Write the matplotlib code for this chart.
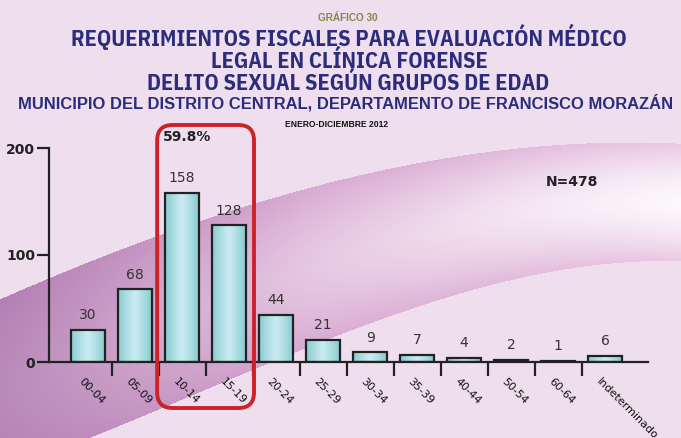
import numpy as np
import matplotlib
matplotlib.use("Agg")
import matplotlib.pyplot as plt
from matplotlib import font_manager
from matplotlib.font_manager import FontProperties
from matplotlib.textpath import TextPath
from matplotlib.patches import FancyBboxPatch

# datos del gráfico
grupos = ['00-04', '05-09', '10-14', '15-19', '20-24', '25-29', '30-34',
          '35-39', '40-44', '50-54', '60-64', 'Indeterminado']
casos = [30, 68, 158, 128, 44, 21, 9, 7, 4, 2, 1, 6]
total = 478
porcentaje = '59.8%'

W, H = 681, 438
fig = plt.figure(figsize=(W / 100, H / 100), dpi=100)
fondo = np.array([238, 222, 238]) / 255
fig.patch.set_facecolor(fondo)
renderer = fig.canvas.get_renderer()

# fuente de títulos: preferir una angosta (Arial Narrow en el original)
linea1 = 'REQUERIMIENTOS FISCALES PARA EVALUACIÓN MÉDICO'
con_negrita = {f.name for f in font_manager.fontManager.ttflist
               if (isinstance(f.weight, int) and f.weight >= 600)
               or f.weight == 'bold'}
con_negrita = {n for n in con_negrita if 'cjk' not in n.lower()}
angostas = {n for n in con_negrita
            if 'condensed' in n.lower() or 'narrow' in n.lower()}
candidatas = sorted(angostas) if angostas else sorted(con_negrita)
mejor, err_min, tam_titulo = 'Liberation Sans', 1e9, 14
for n in candidatas:
    try:
        tt = fig.text(0, 0, linea1, fontsize=17, fontweight='bold', family=n)
        w = tt.get_window_extent(renderer).width
        tt.remove()
        s = 17 * 618 / w
        fp = FontProperties(family=n, weight='bold', size=s)
        cap = TextPath((0, 0), 'H', prop=fp).get_extents().height * 100 / 72
    except Exception:
        continue
    err = abs(cap - 16.5)
    if err < err_min:
        mejor, err_min, tam_titulo = n, err, s
fam = [mejor, 'Liberation Sans']
tam_titulo *= 0.9

# fondo decorativo (franja curva)
bg = fig.add_axes([0, 0, 1, 1], zorder=0)
bg.set_axis_off()
xs = np.arange(W)
ys = np.arange(H)[:, None]
p_up = np.polyfit([0, 150, 300, 380, 480, 580, 681],
                  [298, 240, 190, 167, 153, 146, 142], 3)
p_lo = np.polyfit([0, 90, 200, 300, 380, 480, 580, 681],
                  [470, 438, 393, 348, 318, 288, 268, 260], 3)
y_up = np.polyval(p_up, xs)
y_lo = np.polyval(p_lo, xs)
t = (ys - y_up) / (y_lo - y_up)
dentro = (t >= 0) & (t <= 1)
fx = xs / (W - 1)
c_izq = np.array([180, 128, 180]) / 255
c_med = np.array([216, 170, 210]) / 255
c_der = np.array([234, 200, 228]) / 255
base = np.where(fx[:, None] < 0.45,
                c_izq + (c_med - c_izq) * (fx[:, None] / 0.45),
                c_med + (c_der - c_med) * ((fx[:, None] - 0.45) / 0.55))
brillo = np.clip(1 - np.abs(2 * t - 1) ** 1.6, 0, 1) * (0.08 + 0.8 * fx ** 1.4)
img = np.ones((H, W, 3)) * fondo
col = base[None, :, :] * (1 - brillo[..., None]) + brillo[..., None]
img = np.where(dentro[..., None], col, img)
bg.imshow(img, extent=[0, 1, 0, 1], aspect='auto', interpolation='bilinear')
bg.set_xlim(0, 1)
bg.set_ylim(0, 1)

# ejes principales
ax = fig.add_axes([49 / W, (H - 362) / H, (648 - 49) / W, (362 - 148) / H], zorder=2)
ax.patch.set_alpha(0)
x = np.arange(len(grupos))

barras = ax.bar(x, casos, width=0.72, color='none', edgecolor='#222222',
                linewidth=1.6, zorder=3)
grad = np.linspace(0, 1, 64)
perfil = 1 - np.abs(2 * grad - 1) ** 1.2
c1 = np.array([136, 202, 208]) / 255
c2 = np.array([200, 235, 240]) / 255
gimg = (c1[None, :] + (c2 - c1)[None, :] * perfil[:, None])[None, :, :]
for b in barras:
    bx, by = b.get_x(), b.get_y()
    bw, bh = b.get_width(), b.get_height()
    im = ax.imshow(gimg, extent=[bx, bx + bw, by, by + bh], aspect='auto',
                   zorder=2, interpolation='bilinear')
    im.set_clip_path(b)
ax.set_xlim(-0.83, 11.91)
ax.set_ylim(0, 200)

for xi, v in zip(x, casos):
    ax.text(xi, v + 7, str(v), ha='center', va='bottom', fontsize=10,
            color='#333333', family='DejaVu Sans', zorder=4)

for xi, g in zip(x, grupos):
    ax.text(xi - 0.16, -17, g, rotation=-45, rotation_mode='anchor',
            ha='left', va='center', fontsize=8, color='#111111',
            family='DejaVu Sans', clip_on=False, zorder=4)

for s in ['top', 'right']:
    ax.spines[s].set_visible(False)
for s in ['left', 'bottom']:
    ax.spines[s].set_linewidth(1.6)
    ax.spines[s].set_color('#222222')
ax.set_yticks([0, 100, 200])
ax.set_yticklabels(['0', '100', '200'], fontsize=10, fontweight='bold',
                   color='#222222')
ax.tick_params(axis='y', length=9, width=1.6, color='#222222', pad=1)
ax.set_xticks(x[:-1] + 0.5)
ax.set_xticklabels([])
ax.tick_params(axis='x', length=10, width=1.6, color='#222222', direction='out')

# recuadro rojo 10-19 años
bbox = ax.get_position()
px_x = bbox.width * W / (11.91 + 0.83)
px_y = bbox.height * H / 200
aspecto = px_x / px_y
caja = FancyBboxPatch((1.47, -43), 3.53 - 1.47, 221.5 + 43,
                      boxstyle='round,pad=0,rounding_size=0.33',
                      mutation_aspect=aspecto, fill=False,
                      edgecolor='#cc2229', linewidth=2.8, clip_on=False,
                      zorder=5)
ax.add_patch(caja)
ax.text(1.6, 210, porcentaje, fontsize=10, fontweight='bold', color='#222222',
        va='center', ha='left', zorder=6)
ax.text(10.3, 168, 'N=' + str(total), fontsize=10, fontweight='bold',
        color='#222222', ha='center', va='center', zorder=6)

# títulos (alineados por línea base)
azul = '#2b2c7c'


def titulo(x_px, base_px, texto, ancho_px, color, familia):
    t = fig.text(x_px / W, 1 - base_px / H, texto, ha='center', va='baseline',
                 fontsize=10, fontweight='bold', color=color, family=familia)
    w = t.get_window_extent(renderer).width
    t.set_fontsize(10 * ancho_px / w)
    return t


def titulo_fijo(x_px, base_px, texto, tam, color):
    return fig.text(x_px / W, 1 - base_px / H, texto, ha='center',
                    va='baseline', fontsize=tam, fontweight='bold',
                    color=color, family=fam)


titulo(348, 21, 'GRÁFICO 30', 60, '#86864a', 'Liberation Sans')
titulo_fijo(349, 45.5, linea1, tam_titulo, azul)
titulo_fijo(349, 67.5, 'LEGAL EN CLÍNICA FORENSE', tam_titulo, azul)
titulo_fijo(348, 90.5, 'DELITO SEXUAL SEGÚN GRUPOS DE EDAD', tam_titulo, azul)
titulo(346, 108.5, 'MUNICIPIO DEL DISTRITO CENTRAL, DEPARTAMENTO DE FRANCISCO MORAZÁN',
       654, azul, 'Liberation Sans')
titulo(337, 127, 'ENERO-DICIEMBRE 2012', 102, '#111111', 'Liberation Sans')

fig.savefig('out.png', dpi=100, facecolor=fig.get_facecolor())
